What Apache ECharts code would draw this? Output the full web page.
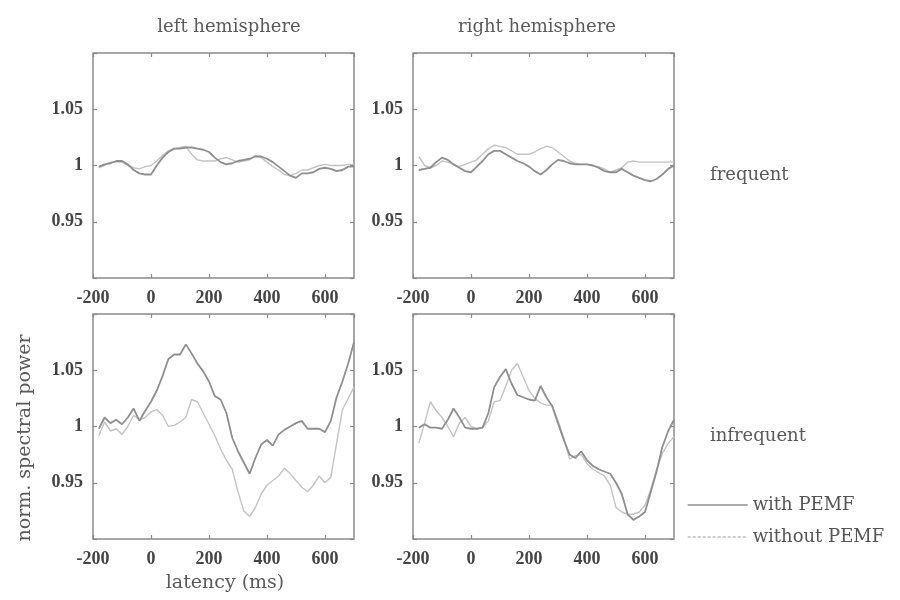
<!DOCTYPE html>
<html>
<head>
<meta charset="utf-8">
<script src="https://cdn.jsdelivr.net/npm/echarts@6/dist/echarts.min.js"></script>
<style>
  html, body { margin: 0; padding: 0; background: #fff; }
  #chart { width: 900px; height: 600px; }
</style>
</head>
<body>
<div id="chart"></div>
<script>
// latency grid (ms), shared by every curve
const latency = [-180, -160, -140, -120, -100, -80, -60, -40, -20, 0, 20, 40, 60, 80, 100, 120, 140, 160, 180, 200,
  220, 240, 260, 280, 300, 320, 340, 360, 380, 400, 420, 440, 460, 480, 500, 520, 540, 560, 580, 600, 620, 640, 660, 680, 700]

const xTicks = [-200, 0, 200, 400, 600]
const yTicks = [0.95, 1, 1.05]

const panelTitles = ['left hemisphere', 'right hemisphere']
const rowLabels = ['frequent', 'infrequent']
const seriesNames = ['with PEMF', 'without PEMF']

// frequent, left hemisphere
const freqLeftWith = [0.999, 1.001, 1.002, 1.004, 1.004, 1.001, 0.996, 0.993, 0.992, 0.992, 1.0, 1.007, 1.012, 1.015, 1.015, 1.016, 1.016, 1.015, 1.014, 1.012,
  1.007, 1.003, 1.001, 1.002, 1.004, 1.005, 1.006, 1.008, 1.008, 1.006, 1.003, 0.999, 0.995, 0.991, 0.989, 0.993, 0.993, 0.994, 0.997, 0.998, 0.997, 0.995, 0.996, 0.999, 0.999]
const freqLeftWithout = [0.998, 1.0, 1.003, 1.003, 1.003, 1.0, 0.998, 0.997, 0.999, 1.0, 1.004, 1.009, 1.013, 1.015, 1.016, 1.017, 1.010, 1.005, 1.004, 1.004,
  1.004, 1.006, 1.007, 1.005, 1.003, 1.004, 1.005, 1.009, 1.007, 1.003, 0.999, 0.996, 0.992, 0.991, 0.993, 0.996, 0.996, 0.998, 1.0, 1.001, 1.0, 1.0, 1.0, 1.001, 1.001]

// frequent, right hemisphere
const freqRightWith = [0.996, 0.997, 0.998, 1.003, 1.007, 1.005, 1.001, 0.998, 0.995, 0.994, 0.999, 1.004, 1.010, 1.013, 1.013, 1.010, 1.007, 1.004, 1.002, 0.999,
  0.995, 0.992, 0.996, 1.001, 1.005, 1.004, 1.002, 1.001, 1.001, 1.001, 1.0, 0.998, 0.995, 0.994, 0.994, 0.997, 0.994, 0.991, 0.989, 0.987, 0.986, 0.988, 0.992, 0.997, 1.0]
const freqRightWithout = [1.008, 1.0, 0.998, 1.0, 1.004, 1.003, 1.001, 0.999, 1.001, 1.003, 1.005, 1.010, 1.015, 1.018, 1.017, 1.016, 1.013, 1.010, 1.010, 1.010,
  1.012, 1.015, 1.017, 1.016, 1.012, 1.008, 1.004, 1.002, 1.001, 1.001, 1.0, 0.999, 0.997, 0.994, 0.996, 0.998, 1.003, 1.004, 1.003, 1.003, 1.003, 1.003, 1.003, 1.003, 1.003]

// infrequent, left hemisphere
const infreqLeftWith = [0.998, 1.008, 1.003, 1.006, 1.002, 1.008, 1.016, 1.005, 1.014, 1.022, 1.032, 1.045, 1.06, 1.064, 1.064, 1.073, 1.065, 1.056, 1.049, 1.040,
  1.027, 1.024, 1.012, 0.990, 0.978, 0.968, 0.958, 0.972, 0.984, 0.988, 0.983, 0.993, 0.997, 1.0, 1.003, 1.005, 0.998, 0.998, 0.998, 0.995, 1.005, 1.026, 1.040, 1.056, 1.075]
const infreqLeftWithout = [0.992, 1.004, 0.996, 0.998, 0.993, 1.0, 1.010, 1.006, 1.008, 1.013, 1.015, 1.010, 1.0, 1.001, 1.004, 1.008, 1.024, 1.022, 1.012, 1.002,
  0.992, 0.980, 0.970, 0.962, 0.942, 0.925, 0.920, 0.928, 0.940, 0.948, 0.952, 0.956, 0.963, 0.958, 0.952, 0.946, 0.942, 0.948, 0.956, 0.950, 0.955, 0.985, 1.015, 1.025, 1.035]

// infrequent, right hemisphere
const infreqRightWith = [0.999, 1.002, 0.999, 0.999, 0.998, 1.006, 1.016, 1.008, 0.999, 0.998, 0.998, 0.999, 1.012, 1.035, 1.044, 1.051, 1.038, 1.028, 1.026, 1.024,
  1.023, 1.036, 1.026, 1.018, 1.003, 0.988, 0.975, 0.972, 0.978, 0.970, 0.965, 0.962, 0.960, 0.958, 0.950, 0.940, 0.922, 0.917, 0.920, 0.924, 0.942, 0.960, 0.982, 0.996, 1.006]
const infreqRightWithout = [0.985, 1.003, 1.022, 1.014, 1.008, 1.0, 0.991, 1.003, 1.008, 1.0, 0.998, 0.999, 1.005, 1.022, 1.023, 1.036, 1.05, 1.056, 1.044, 1.032,
  1.025, 1.021, 1.019, 1.019, 1.005, 0.99, 0.971, 0.974, 0.975, 0.967, 0.962, 0.959, 0.956, 0.948, 0.928, 0.924, 0.922, 0.922, 0.924, 0.930, 0.944, 0.962, 0.976, 0.985, 0.991]

const panels = [
  [freqLeftWith, freqLeftWithout],
  [freqRightWith, freqRightWithout],
  [infreqLeftWith, infreqLeftWithout],
  [infreqRightWith, infreqRightWithout]
]

const chart = echarts.init(document.getElementById('chart'))

const serif = "'Liberation Serif', 'Times New Roman', serif"
const wideSerif = "'DejaVu Serif', serif"
const frameColor = '#8a8a8a'
const withColor = '#8f8f8f'
const withoutColor = '#c4c4c4'

const gridPos = [
  {left: 93, top: 53},
  {left: 413, top: 53},
  {left: 93, top: 314},
  {left: 413, top: 314}
]

const grid = gridPos.map(p => ({
  left: p.left, top: p.top, width: 261, height: 225,
  show: true, borderColor: frameColor, borderWidth: 1.5, backgroundColor: '#fff'
}))

const tickLabel = {fontFamily: serif, fontSize: 18, fontWeight: 'bold', color: '#444'}

const xAxis = []
const yAxis = []
const series = []

panels.forEach((pair, i) => {
  // bottom axis with labels, top axis only for mirrored ticks
  ;['bottom', 'top'].forEach(pos => {
    xAxis.push({
      type: 'value', gridIndex: i, position: pos,
      min: -200, max: 700, interval: 200,
      axisLine: {show: false, onZero: false},
      axisTick: {show: true, inside: true, length: 4, lineStyle: {color: frameColor, width: 1.2}},
      axisLabel: Object.assign({
        show: pos === 'bottom', showMaxLabel: false, margin: 11,
        formatter: v => xTicks.includes(v) ? String(v) : ''
      }, tickLabel),
      splitLine: {show: false}
    })
  })
  ;['left', 'right'].forEach(pos => {
    yAxis.push({
      type: 'value', gridIndex: i, position: pos,
      min: 0.9, max: 1.1, interval: 0.05,
      axisLine: {show: false, onZero: false},
      axisTick: {show: true, inside: true, length: 4, lineStyle: {color: frameColor, width: 1.2}},
      axisLabel: Object.assign({
        show: pos === 'left', margin: 10,
        formatter: v => {
          const hit = yTicks.find(t => Math.abs(t - v) < 1e-6)
          return hit === undefined ? '' : String(hit)
        }
      }, tickLabel),
      splitLine: {show: false}
    })
  })

  pair.forEach((vals, k) => {
    const c = k === 0 ? withColor : withoutColor
    series.push({
      name: seriesNames[k],
      type: 'line',
      xAxisIndex: i * 2,
      yAxisIndex: i * 2,
      data: latency.map((t, j) => [t, vals[j]]),
      symbol: 'none',
      z: k === 0 ? 3 : 2,
      itemStyle: {color: c},
      lineStyle: {color: c, width: k === 0 ? 1.8 : 1.4, type: 'solid'}
    })
  })
})

const textStyle = {fontFamily: wideSerif, fontSize: 18, fill: '#5a5a5a'}
const axisTitleStyle = Object.assign({}, textStyle, {fontSize: 19})

chart.setOption({
  animation: false,
  backgroundColor: '#fff',
  grid, xAxis, yAxis, series,
  legend: {
    orient: 'vertical',
    left: 682, top: 491,
    itemWidth: 60, itemHeight: 20, itemGap: 14,
    textStyle: {fontFamily: wideSerif, fontSize: 18, color: '#555'},
    data: [
      {name: seriesNames[0], itemStyle: {opacity: 0}, lineStyle: {color: withColor, width: 1.4, type: 'solid'}},
      {name: seriesNames[1], itemStyle: {opacity: 0}, lineStyle: {color: '#999', width: 1.2, type: [3, 2]}}
    ],
    selectedMode: false
  },
  graphic: [
    {type: 'text', x: 229, y: 27, style: Object.assign({text: panelTitles[0], align: 'center', verticalAlign: 'middle'}, textStyle)},
    {type: 'text', x: 537, y: 27, style: Object.assign({text: panelTitles[1], align: 'center', verticalAlign: 'middle'}, textStyle)},
    {type: 'text', x: 710, y: 175, style: Object.assign({text: rowLabels[0], verticalAlign: 'middle'}, textStyle)},
    {type: 'text', x: 710, y: 436, style: Object.assign({text: rowLabels[1], verticalAlign: 'middle'}, textStyle)},
    {type: 'text', x: 225, y: 583, style: Object.assign({text: 'latency (ms)', align: 'center', verticalAlign: 'middle'}, axisTitleStyle)},
    {
      type: 'text', x: 25, y: 438, rotation: Math.PI / 2,
      style: Object.assign({text: 'norm. spectral power', align: 'center', verticalAlign: 'middle'}, axisTitleStyle)
    }
  ]
})
</script>
</body>
</html>
